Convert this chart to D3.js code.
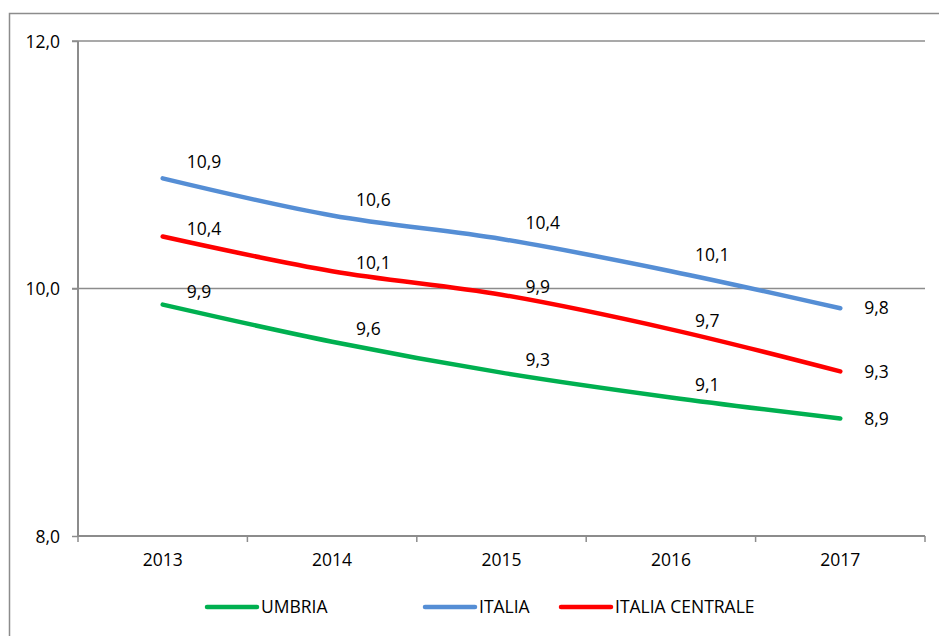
<!DOCTYPE html>
<html>
<head>
<meta charset="utf-8">
<script src="https://cdn.jsdelivr.net/npm/d3@7"></script>
<style>
  body { margin: 0; background: #fff; }
  text { font-family: "Open Sans", "Noto Sans", sans-serif; fill: #000; }
</style>
</head>
<body>
<div id="chart"></div>
<script>
let years = ["2013", "2014", "2015", "2016", "2017"];
let umbria = [9.87, 9.57, 9.32, 9.12, 8.95];
let italia = [10.89, 10.59, 10.40, 10.14, 9.84];
let italiaCentrale = [10.42, 10.14, 9.95, 9.67, 9.33];
let yTicks = [8, 10, 12];

let series = [
    {name: "UMBRIA", values: umbria, color: "#00b050", dy: -13},
    {name: "ITALIA", values: italia, color: "#558ed5", dy: -16},
    {name: "ITALIA CENTRALE", values: italiaCentrale, color: "#ff0000", dy: -8}
];

let W = 939, H = 636;
let margin = {top: 41, right: 14, bottom: 100, left: 78},
    width = W - margin.left - margin.right,
    height = H - margin.top - margin.bottom;

let svg = d3.select("#chart")
    .append("svg")
    .attr("width", W)
    .attr("height", H);

// outer frame (top and left edges visible)
svg.append("path")
    .attr("d", "M9.5," + H + "V13.5H" + W)
    .attr("fill", "none")
    .attr("stroke", "#8c8c8c")
    .attr("stroke-width", 1.5);

let canvas = svg.append("g")
    .attr("transform", "translate(" + margin.left + "," + margin.top + ")");

let x = d3.scaleBand()
    .domain(years)
    .range([0, width]);

let y = d3.scaleLinear()
    .domain([8, 12])
    .range([height, 0]);

let fmt = function(d) { return d3.format(".1f")(d).replace(".", ","); };

// gridlines
canvas.append("g").selectAll("line")
    .data(yTicks.filter(function(d) { return d !== 8; }))
    .enter().append("line")
    .attr("x1", -6)
    .attr("x2", width)
    .attr("y1", function(d) { return y(d); })
    .attr("y2", function(d) { return y(d); })
    .attr("stroke", "#8c8c8c")
    .attr("stroke-width", 1.5);

// y axis
let yAxis = d3.axisLeft(y)
    .tickValues(yTicks)
    .tickSize(6)
    .tickPadding(12)
    .tickFormat(fmt);

let gY = canvas.append("g").call(yAxis);
gY.select(".domain").remove();
gY.selectAll(".tick line").attr("stroke", "#8c8c8c").attr("stroke-width", 1.5);
gY.selectAll("text").style("font-size", "17.5px").attr("dy", "0.35em");
canvas.append("line")
    .attr("x1", 0).attr("x2", 0)
    .attr("y1", 0).attr("y2", height)
    .attr("stroke", "#8c8c8c")
    .attr("stroke-width", 2);

// x axis with ticks between categories
let gX = canvas.append("g")
    .attr("transform", "translate(0," + height + ")");
gX.append("line")
    .attr("x1", 0).attr("x2", width)
    .attr("stroke", "#8c8c8c")
    .attr("stroke-width", 2);
let bounds = years.map(function(d) { return x(d); }).concat([width]);
gX.selectAll(".xt")
    .data(bounds)
    .enter().append("line")
    .attr("class", "xt")
    .attr("x1", function(d) { return d; })
    .attr("x2", function(d) { return d; })
    .attr("y1", 0).attr("y2", 6)
    .attr("stroke", "#8c8c8c")
    .attr("stroke-width", 1.5);
gX.selectAll(".xl")
    .data(years)
    .enter().append("text")
    .attr("class", "xl")
    .attr("x", function(d) { return x(d) + x.bandwidth() / 2; })
    .attr("y", 30)
    .attr("text-anchor", "middle")
    .style("font-size", "17.5px")
    .text(function(d) { return d; });

let line = d3.line()
    .curve(d3.curveMonotoneX)
    .x(function(d, i) { return x(years[i]) + x.bandwidth() / 2; })
    .y(function(d) { return y(d); });

let groups = canvas.selectAll(".series")
    .data(series)
    .enter().append("g")
    .attr("class", "series");

groups.append("path")
    .attr("d", function(d) { return line(d.values); })
    .attr("fill", "none")
    .attr("stroke", function(d) { return d.color; })
    .attr("stroke-width", 4.5)
    .attr("stroke-linecap", "round");

groups.each(function(s) {
    d3.select(this).selectAll("text")
        .data(s.values)
        .enter().append("text")
        .attr("x", function(d, i) { return x(years[i]) + x.bandwidth() / 2 + 24; })
        .attr("y", function(d, i) { return y(d) + (i === years.length - 1 ? 0 : s.dy); })
        .attr("dy", "0.35em")
        .style("font-size", "17.5px")
        .text(function(d) { return fmt(d); });
});

// legend
let legendItems = [
    {s: series[0], x: 207},
    {s: series[1], x: 425},
    {s: series[2], x: 561}
];
let legend = svg.append("g").attr("transform", "translate(0,607)");
legendItems.forEach(function(item) {
    legend.append("line")
        .attr("x1", item.x).attr("x2", item.x + 50)
        .attr("stroke", item.s.color)
        .attr("stroke-width", 4.5)
        .attr("stroke-linecap", "round");
    legend.append("text")
        .attr("x", item.x + 54)
        .attr("dy", "0.35em")
        .style("font-size", "17.5px")
        .text(item.s.name);
});
</script>
</body>
</html>
